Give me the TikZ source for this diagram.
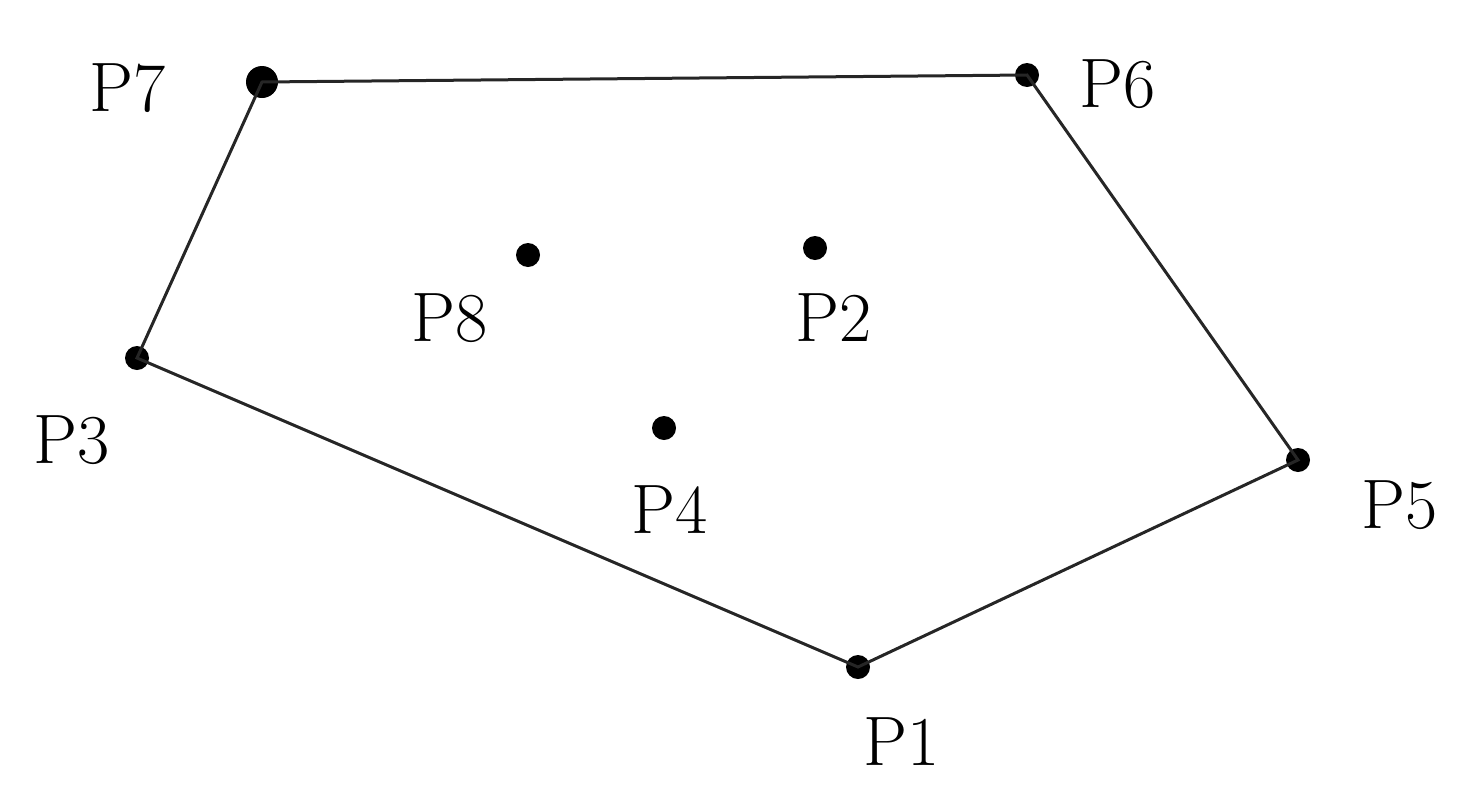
\documentclass[tikz,border=0pt]{standalone}
\begin{document}
\begin{tikzpicture}[x=1pt,y=-1pt,
  hull/.style={line width=3pt, black!85},
  pt/.style={circle, fill=black, inner sep=0pt, minimum size=24pt},
  lab/.style={font=\fontsize{70}{70}\selectfont, inner sep=0pt}]
\useasboundingbox (0,0) rectangle (1474,806);
\node[pt, minimum size=32pt] (p7) at (262,82) {};
\node[pt] (p6) at (1027,75) {};
\node[pt] (p5) at (1298,460) {};
\node[pt] (p1) at (858,667) {};
\node[pt] (p3) at (137,358) {};
\node[pt] (p8) at (528,255) {};
\node[pt] (p2) at (815,248) {};
\node[pt] (p4) at (664,428) {};
\draw[hull] (p7.center) -- (p6.center) -- (p5.center) -- (p1.center) -- (p3.center) -- cycle;
\node[lab] (l7) at (128,88) {P7};
\node[lab] (l6) at (1118,84) {P6};
\node[lab] (l8) at (450,318) {P8};
\node[lab] (l2) at (834,318) {P2};
\node[lab] (l3) at (72,440) {P3};
\node[lab] (l4) at (670,510) {P4};
\node[lab] (l5) at (1400,505) {P5};
\node[lab] (l1) at (902,742) {P1};
\end{tikzpicture}
\end{document}
